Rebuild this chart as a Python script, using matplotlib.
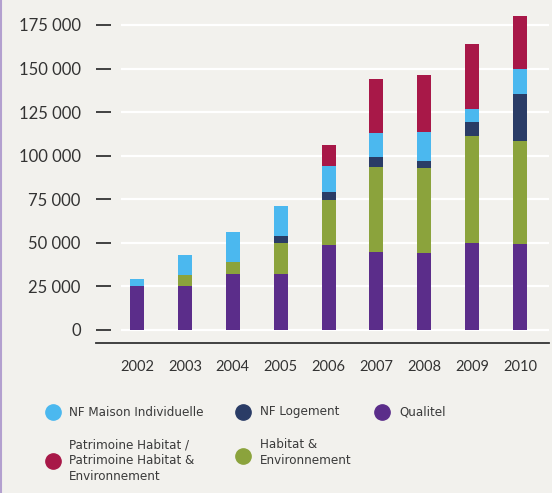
import matplotlib
matplotlib.use("Agg")
import matplotlib.pyplot as plt
from matplotlib.lines import Line2D

years = ["2002", "2003", "2004", "2005", "2006", "2007", "2008", "2009", "2010"]

# stacked from bottom to top
qualitel     = [25000, 25000, 32400, 32400, 48500, 44500, 43900, 50200, 49600]
habitat_env  = [0, 6300, 6900, 17800, 26300, 49100, 49100, 60900, 58900]
nf_logement  = [0, 0, 0, 4000, 4600, 5700, 4000, 8200, 26700]
nf_maison    = [4000, 11500, 17200, 17200, 14800, 13900, 16700, 7500, 14500]
patrimoine   = [0, 0, 0, 0, 11900, 30600, 32500, 37200, 30400]

yticks = [0, 25000, 50000, 75000, 100000, 125000, 150000, 175000]
ytick_labels = ["0", "25 000", "50 000", "75 000", "100 000", "125 000", "150 000", "175 000"]

C_QUAL = "#5b2d8a"
C_HE = "#8ba33c"
C_LOG = "#2a3c66"
C_MI = "#4bb8ef"
C_PAT = "#a81848"
BG = "#f2f1ed"

W, H = 552, 493
fig = plt.figure(figsize=(W / 100, H / 100), dpi=100, facecolor=BG)

# axes placed in pixel terms
ax_l, ax_r, ax_t, ax_b = 96, 549, 10, 343
ax = fig.add_axes([ax_l / W, 1 - ax_b / H, (ax_r - ax_l) / W, (ax_b - ax_t) / H])
ax.set_facecolor(BG)

x = list(range(len(years)))
px_per_unit = (520 - 137) / 8
ax.set_xlim(-(137 - ax_l) / px_per_unit, 8 + (ax_r - 520) / px_per_unit)
ax.set_ylim(-7460, 183600)

# white gridlines, starting a bit right of the tick dashes
ax.hlines(yticks, (121 - ax_l) / (ax_r - ax_l), 1, transform=ax.get_yaxis_transform(),
          color="white", lw=1.6, zorder=0)

bw = 14 / px_per_unit
bottom = [0] * len(years)
for vals, col in [(qualitel, C_QUAL), (habitat_env, C_HE), (nf_logement, C_LOG),
                  (nf_maison, C_MI), (patrimoine, C_PAT)]:
    ax.bar(x, vals, bw, bottom=bottom, color=col, zorder=2)
    bottom = [b + v for b, v in zip(bottom, vals)]

for s in ["left", "right", "top"]:
    ax.spines[s].set_visible(False)
ax.spines["bottom"].set_color("#333333")
ax.spines["bottom"].set_linewidth(1.3)

ax.set_yticks(yticks)
ax.set_yticklabels(ytick_labels, family="Lato", fontsize=12, color="#333333")
ax.tick_params(axis="y", direction="in", length=10.5, width=1.3, color="#333333", pad=11)
ax.set_xticks(x)
ax.set_xticklabels(years, family="Lato", fontsize=10.5, color="#333333")
ax.tick_params(axis="x", length=0, pad=12)

# left border line
fig.add_artist(Line2D([1 / W, 1 / W], [0, 1], transform=fig.transFigure, color="#b3a0cf", lw=1.5))

# legend drawn by hand: label, colour, marker x/y, text x/y (pixels)
legend_items = [
    ("NF Maison Individuelle", C_MI, 53, 412, 69, 412),
    ("NF Logement", C_LOG, 243, 412, 260, 412),
    ("Qualitel", C_QUAL, 382, 412, 399, 412),
    ("Patrimoine Habitat /\nPatrimoine Habitat &\nEnvironnement", C_PAT, 53, 461, 69, 461),
    ("Habitat &\nEnvironnement", C_HE, 243, 456, 260, 453),
]
for label, col, mx, my, tx, ty in legend_items:
    fig.add_artist(Line2D([mx / W], [1 - my / H], transform=fig.transFigure, marker="o",
                          markersize=11, color=col, lw=0))
    fig.text(tx / W, 1 - ty / H, label, ha="left", va="center", fontsize=9.5,
             family="DejaVu Sans", stretch="condensed", color="#3a3a3a", linespacing=1.3)

fig.savefig("out.png", dpi=100, facecolor=BG)
